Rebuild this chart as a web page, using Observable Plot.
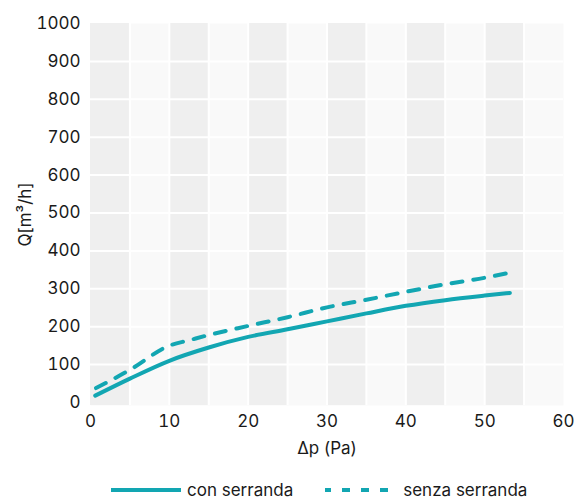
<!DOCTYPE html>
<html>
<head>
<meta charset="utf-8">
<script src="https://cdn.jsdelivr.net/npm/d3@7"></script>
<script src="https://cdn.jsdelivr.net/npm/@observablehq/plot@0.6"></script>
<style>
  html, body { margin: 0; padding: 0; background: #fff; }
  body { width: 576px; font-family: Inter, "Liberation Sans", sans-serif; color: #1a1a1a; }
  #chart svg { display: block; }
  #legend { display: flex; align-items: center; height: 18px; line-height: 18px; margin-top: 19px; font-size: 17px; }
  #legend .item { display: flex; align-items: center; }
  #legend svg { display: block; }
</style>
</head>
<body>
<div id="chart"></div>
<div id="legend"></div>
<script>
// Data
const seriesNames = ["con serranda", "senza serranda"];
const pressureCon = [0.6, 5, 10, 15, 20, 25, 30, 35, 40, 45, 50, 53.2];
const flowCon = [18, 63, 110, 145, 173, 193, 214, 235, 255, 270, 282, 289];
const pressureSenza = [0.7, 5, 10, 12.5, 15, 20, 25, 30, 35, 40, 45, 50, 53.7];
const flowSenza = [38, 86, 150, 164, 178, 202, 225, 251, 271, 292, 312, 329, 345];
const xTicks = [0, 10, 20, 30, 40, 50, 60];
const yTicks = [0, 100, 200, 300, 400, 500, 600, 700, 800, 900, 1000];
const bandStarts = [0, 10, 20, 30, 40, 50];
const gridX = [5, 10, 15, 20, 25, 30, 35, 40, 45, 50, 55];

const color = "#12a6b2";
const yMin = -8;

const rows = [
  ...pressureCon.map((x, i) => ({x, y: flowCon[i], s: seriesNames[0]})),
  ...pressureSenza.map((x, i) => ({x, y: flowSenza[i], s: seriesNames[1]}))
];

const chart = Plot.plot({
  width: 576,
  height: 462,
  marginLeft: 90,
  marginRight: 13,
  marginTop: 23,
  marginBottom: 57,
  style: {fontFamily: "Inter, 'Liberation Sans', sans-serif", fontSize: "17px", color: "#1a1a1a", background: "#fff"},
  x: {domain: [0, 60]},
  y: {domain: [yMin, 1000]},
  marks: [
    Plot.frame({fill: "#f9f9f9", stroke: null}),
    Plot.rect(bandStarts, {x1: d => d, x2: d => d + 5, y1: yMin, y2: 1000, fill: "#efefef"}),
    Plot.ruleY(yTicks.filter(d => d > 0 && d < 1000), {stroke: "#fff", strokeWidth: 2}),
    Plot.ruleX(gridX, {y1: yMin, y2: 1000, stroke: "#fff", strokeWidth: 2}),
    Plot.axisX(xTicks, {tickSize: 0, tickPadding: 9, tickFormat: d => String(d), label: "Δp (Pa)", labelAnchor: "center", labelArrow: "none", labelOffset: 48, fontSize: 17}),
    Plot.axisY(yTicks, {tickSize: 0, tickPadding: 10, tickFormat: d => String(d), label: "Q[m³/h]", labelAnchor: "center", labelArrow: "none", labelOffset: 72, fontSize: 17}),
    Plot.line(rows.filter(d => d.s === seriesNames[0]), {x: "x", y: "y", stroke: color, strokeWidth: 4, curve: "monotone-x"}),
    Plot.line(rows.filter(d => d.s === seriesNames[1]), {x: "x", y: "y", stroke: color, strokeWidth: 4, strokeDasharray: "11,11", curve: "monotone-x"})
  ]
});
document.getElementById("chart").appendChild(chart);

// Legend below the chart
const legend = document.getElementById("legend");
const styles = [{dash: null, pad: 111, w: 70}, {dash: "8,11", pad: 32, w: 66}];
seriesNames.forEach((name, i) => {
  const item = document.createElement("div");
  item.className = "item";
  item.style.marginLeft = styles[i].pad + "px";
  const sw = styles[i].w;
  item.innerHTML = `<svg width="${sw}" height="8"><line x1="0" x2="${sw}" y1="4" y2="4" stroke="${color}" stroke-width="4" ${styles[i].dash ? `stroke-dasharray="${styles[i].dash}" stroke-dashoffset="2"` : 'stroke-linecap="round"'}/></svg><span style="margin-left:${i === 0 ? 6 : 12}px">${name}</span>`;
  legend.appendChild(item);
});
</script>
</body>
</html>
